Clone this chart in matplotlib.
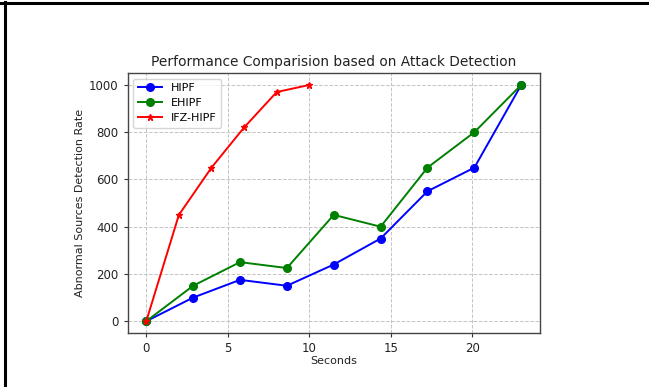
import matplotlib
matplotlib.use("Agg")
import matplotlib.pyplot as plt
from matplotlib.lines import Line2D

# Data
x_main = [0, 2.875, 5.75, 8.625, 11.5, 14.375, 17.25, 20.125, 23]
hipf = [0, 100, 175, 150, 240, 350, 550, 650, 1000]
ehipf = [0, 150, 250, 225, 450, 400, 650, 800, 1000]
x_ifz = [0, 2, 4, 6, 8, 10]
ifz_hipf = [0, 450, 650, 820, 970, 1000]
x_ticks = [0, 5, 10, 15, 20]
y_ticks = [0, 200, 400, 600, 800, 1000]

fig = plt.figure(figsize=(6.49, 3.87), dpi=100)
ax = fig.add_axes([0.1965, 0.1395, 0.6355, 0.6715])

ax.plot(x_main, hipf, color='blue', marker='o', markersize=5.5, linewidth=1.4, label='HIPF')
ax.plot(x_main, ehipf, color='green', marker='o', markersize=5.5, linewidth=1.4, label='EHIPF')
ax.plot(x_ifz, ifz_hipf, color='red', marker='*', markersize=5, linewidth=1.4, label='IFZ-HIPF')

ax.set_xticks(x_ticks)
ax.set_yticks(y_ticks)
ax.tick_params(labelsize=8.5, length=3, color='#333333', labelcolor='#222222')
ax.grid(True, linestyle='--', color='#c4c4c4', linewidth=0.7)
for s in ax.spines.values():
    s.set_color('#444444')
    s.set_linewidth(1.0)

ax.set_title('Performance Comparision based on Attack Detection', fontsize=9.9, color='#222222', pad=5)
ax.set_xlabel('Seconds', fontsize=8, color='#222222', labelpad=1)
ax.set_ylabel('Abnormal Sources Detection Rate', fontsize=8, color='#222222', labelpad=3)
leg = ax.legend(loc='upper left', fontsize=8, handlelength=2.2, borderpad=0.4, labelspacing=0.45)
leg.get_frame().set_edgecolor('#cccccc')

# border frame (top and left lines)
fig.add_artist(Line2D([0, 1], [1 - 3/387, 1 - 3/387], color='black', linewidth=2.2, transform=fig.transFigure))
fig.add_artist(Line2D([5/649, 5/649], [0, 1 - 2/387], color='black', linewidth=2.2, transform=fig.transFigure))

fig.savefig('out.png', dpi=100)
